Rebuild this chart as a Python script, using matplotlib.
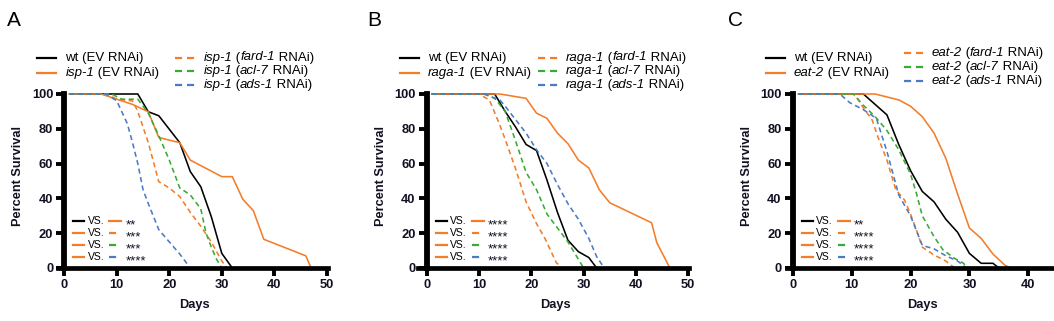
import matplotlib
matplotlib.use('Agg')
import matplotlib.pyplot as plt

W, H = 1054, 321
plt.rcParams['font.family'] = ['Liberation Sans', 'DejaVu Sans']

BLACK = '#000000'
ORANGE = '#F47D2A'
GREEN = '#3AAA35'
BLUE = '#4A7BC4'
TICKCOL = '#111122'

# ---------------- data (days, percent survival) ----------------
# Panel A : isp-1
a_strain = 'isp-1'
a_wt_x = [1, 14, 16, 18, 22, 24, 26, 28, 30, 32]
a_wt_y = [100, 100, 89.8, 87.5, 72, 55.4, 46.7, 29.5, 8.4, 0]
a_ev_x = [1, 7, 13, 16, 18, 22, 24, 30, 32, 34, 36, 38, 46, 47]
a_ev_y = [100, 100, 94, 89.8, 75, 72, 62, 52.5, 52.5, 39.5, 33, 16.5, 7, 0]
a_fard_x = [1, 8, 10, 13, 14, 16, 18, 20, 22, 24, 26, 28, 30, 31]
a_fard_y = [100, 100, 97, 96, 90, 72, 49.6, 46, 41, 32, 24, 15, 4, 0]
a_acl_x = [1, 9, 11, 14, 16, 18, 20, 22, 24, 26, 27, 28, 29, 30]
a_acl_y = [100, 100, 97, 97, 89, 76, 62, 46, 42, 34, 20, 12, 5, 0]
a_ads_x = [1, 8, 10, 12, 13, 14, 15, 16, 18, 20, 22, 24]
a_ads_y = [100, 100, 96, 83, 72, 60, 45, 37, 22, 15, 8, 0]
a_stars = ['**', '***', '***', '****']

# Panel B : raga-1
b_strain = 'raga-1'
b_wt_x = [1, 13, 15, 17, 19, 21, 23, 25, 27, 29, 31, 32.5]
b_wt_y = [100, 100, 90, 81, 71, 67.5, 50.5, 32, 16, 9.4, 6, 0]
b_ev_x = [1, 14, 19, 21, 23, 25, 27, 29, 31, 33, 35, 43, 44, 46.5]
b_ev_y = [100, 100, 97.5, 89, 86, 77.5, 71.5, 62, 57.5, 45, 37.5, 26, 14.5, 0]
b_fard_x = [1, 10, 12, 14, 15, 17, 19, 21, 22.6, 24.8, 26]
b_fard_y = [100, 100, 96.5, 82, 74, 57, 38, 25.5, 17, 3, 0]
b_acl_x = [1, 11, 13, 15, 17, 19, 21, 23, 25, 27, 29, 30]
b_acl_y = [100, 100, 97.5, 90, 73, 55, 45, 31, 23, 15, 5, 0]
b_ads_x = [1, 11, 14, 15, 19, 21, 23, 25, 27, 29, 31, 32.5, 33.5, 34]
b_ads_y = [100, 100, 96.5, 93, 77.5, 68, 60, 48, 37, 28, 17, 6.5, 2, 0]
b_stars = ['****', '****', '****', '****']

# Panel C : eat-2
c_strain = 'eat-2'
c_wt_x = [1, 12, 14, 16, 18, 20, 22, 24, 26, 28, 30, 32, 34, 35]
c_wt_y = [100, 100, 94, 88, 71, 56, 44, 38, 28, 20.5, 8.4, 2.7, 2.7, 0]
c_ev_x = [1, 14, 18, 20, 22, 24, 26, 28, 30, 32, 34, 36, 37]
c_ev_y = [100, 100, 96.6, 93, 87, 77.5, 63, 42.5, 23, 17, 8, 1.7, 0]
c_fard_x = [1, 10.5, 12, 13.5, 14.5, 16, 17.5, 19, 20, 21, 22, 24, 26, 27.5]
c_fard_y = [100, 100, 92, 85, 75, 62, 45, 39, 31, 22, 12, 7.5, 4, 0]
c_acl_x = [1, 10.3, 12, 14, 16, 18, 20, 21, 22, 24, 25.5, 27.5, 29, 29.7]
c_acl_y = [100, 100, 93.5, 87, 79, 68, 54, 43, 30, 18, 10.5, 5.5, 2.7, 0]
c_ads_x = [1, 8, 9.7, 12, 14.2, 16, 18, 20, 22, 24, 26, 28, 29.5]
c_ads_y = [100, 100, 95, 91, 86, 67, 42, 30, 13, 11, 7, 4, 0]
c_stars = ['**', '****', '****', '****']

rnai_genes = ['fard-1', 'acl-7', 'ads-1']
y_ticks = [0, 20, 40, 60, 80, 100]
ab_x_ticks = [0, 10, 20, 30, 40, 50]
c_x_ticks = [0, 10, 20, 30, 40]
panel_letters = ['A', 'B', 'C']

# ---------------- layout ----------------
fig = plt.figure(figsize=(W / 100, H / 100), dpi=100)
TOP_PX, BOT_PX = 94, 268
DASH = (0, (3.2, 2.2))


def fx(px):
    return px / W


def fy(py):
    return 1 - py / H


def rich(ax, x_px, y_px, parts, size=9.5):
    t = fig.text(fx(x_px), fy(y_px), parts[0][0], style=parts[0][1],
                 fontsize=size, va='center', ha='left', color=BLACK)
    for s, st in parts[1:]:
        t = ax.annotate(s, xy=(1, 0), xycoords=t, va='bottom', ha='left',
                        fontsize=size, style=st, color=BLACK,
                        annotation_clip=False)


def fig_line(x0, x1, y, color, ls='-', lw=1.6):
    fig.add_artist(plt.Line2D([fx(x0), fx(x1)], [fy(y), fy(y)],
                              color=color, lw=lw, linestyle=ls,
                              transform=fig.transFigure))


panels = [
    dict(x0=64.3, ppd=5.25, xlim=(-1.2, 50.2), ticks=ab_x_ticks, strain=a_strain,
         series=[(a_wt_x, a_wt_y), (a_ev_x, a_ev_y), (a_fard_x, a_fard_y),
                 (a_acl_x, a_acl_y), (a_ads_x, a_ads_y)],
         stars=a_stars, col2_rows=(57.5, 71, 85), letter_x=7),
    dict(x0=426.7, ppd=5.23, xlim=(-1.6, 50.2), ticks=ab_x_ticks, strain=b_strain,
         series=[(b_wt_x, b_wt_y), (b_ev_x, b_ev_y), (b_fard_x, b_fard_y),
                 (b_acl_x, b_acl_y), (b_ads_x, b_ads_y)],
         stars=b_stars, col2_rows=(57.5, 71, 85), letter_x=367),
    dict(x0=792.7, ppd=5.89, xlim=(-0.97, 44.2), ticks=c_x_ticks, strain=c_strain,
         series=[(c_wt_x, c_wt_y), (c_ev_x, c_ev_y), (c_fard_x, c_fard_y),
                 (c_acl_x, c_acl_y), (c_ads_x, c_ads_y)],
         stars=c_stars, col2_rows=(53, 67, 81), letter_x=728),
]

colors = [BLACK, ORANGE, ORANGE, GREEN, BLUE]
styles = ['-', '-', DASH, DASH, DASH]
sig_rows = [221, 233, 245, 257]

for i, p in enumerate(panels):
    left = p['x0'] + p['xlim'][0] * p['ppd']
    right = p['x0'] + p['xlim'][1] * p['ppd']
    ax = fig.add_axes([fx(left), fy(BOT_PX), (right - left) / W, (BOT_PX - TOP_PX) / H])
    ax.set_xlim(*p['xlim'])
    ax.set_ylim(0, 100)
    ax.patch.set_visible(False)
    for (xs, ys), c, ls in zip(p['series'], colors, styles):
        ax.plot(xs, ys, color=c, lw=1.15, linestyle=ls, clip_on=False, zorder=3)
    for s in ['top', 'right']:
        ax.spines[s].set_visible(False)
    ax.spines['left'].set_position(('data', 0))
    ax.spines['left'].set_linewidth(4.2)
    ax.spines['bottom'].set_linewidth(3.4)
    ax.spines['left'].set_zorder(4)
    ax.spines['bottom'].set_zorder(4)
    ax.tick_params(axis='both', direction='out', length=6, width=2.8,
                   labelsize=9.3, pad=2, colors=BLACK, labelcolor=TICKCOL)
    ax.set_xticks(p['ticks'])
    ax.set_xticklabels([str(t) for t in p['ticks']], fontweight='bold')
    ax.set_yticks(y_ticks)
    ax.set_yticklabels([str(t) for t in y_ticks], fontweight='bold')

    yax = p['x0']
    # axis labels
    fig.text(fx(yax - 46), fy(176), 'Percent Survival', rotation=90,
             fontsize=9.2, fontweight='bold', ha='center', va='center', color=TICKCOL)
    fig.text(fx((left + right) / 2 + 2), fy(305), 'Days', fontsize=9.2,
             fontweight='bold', ha='center', va='center', color=TICKCOL)
    # panel letter
    fig.text(fx(p['letter_x']), fy(20), panel_letters[i], fontsize=15,
             ha='left', va='center', color=BLACK)

    # legend column 1
    fig_line(yax - 27, yax - 8, 58, BLACK, lw=1.6)
    rich(ax, yax + 1, 58, [('wt (EV RNAi)', 'normal')])
    fig_line(yax - 27, yax - 8, 73, ORANGE, lw=1.6)
    rich(ax, yax + 1, 73, [(p['strain'], 'italic'), (' (EV RNAi)', 'normal')])
    # legend column 2
    for gene, c, ry in zip(rnai_genes, [ORANGE, GREEN, BLUE], p['col2_rows']):
        fig_line(yax + 111, yax + 131, ry, c, ls=DASH, lw=1.6)
        rich(ax, yax + 139, ry, [(p['strain'], 'italic'), (' (', 'normal'),
                                 (gene, 'italic'), (' RNAi)', 'normal')])

    # significance legend
    pairs = [(BLACK, '-', ORANGE, '-'), (ORANGE, '-', ORANGE, DASH),
             (ORANGE, '-', GREEN, DASH), (ORANGE, '-', BLUE, DASH)]
    for (c1, l1, c2, l2), st, ry in zip(pairs, p['stars'], sig_rows):
        fig_line(yax + 9, yax + 20, ry, c1, ls=l1, lw=1.6)
        fig.text(fx(yax + 23.5), fy(ry), 'VS.', fontsize=7.5, ha='left',
                 va='center', color=BLACK)
        fig_line(yax + 45, yax + 57, ry, c2, ls=l2, lw=1.6)
        fig.text(fx(yax + 61), fy(ry + 7), st, fontsize=9.5, ha='left',
                 va='baseline', color=TICKCOL)

fig.savefig('out.png', dpi=100)
